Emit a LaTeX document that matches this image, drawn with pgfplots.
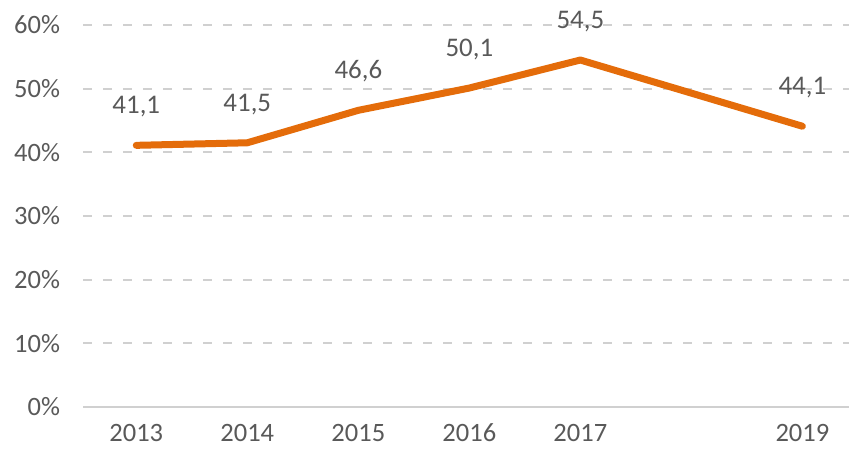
\documentclass[border=0pt]{standalone}
\usepackage{pgfplots}
\pgfplotsset{compat=1.18}
\usepackage{fontspec}
\setmainfont{Carlito}
\definecolor{lineor}{HTML}{E46C0A}
\definecolor{txt}{HTML}{595959}
\definecolor{gridc}{HTML}{D0D0D0}
\begin{document}
\begin{tikzpicture}
\begin{axis}[
  scale only axis,
  width=383bp, height=191bp,
  xmin=2012.52, xmax=2019.42,
  ymin=0, ymax=60,
  axis line style={draw=none},
  axis x line*=bottom,
  axis y line*=left,
  xtick={2013,2014,2015,2016,2017,2019},
  ytick={0,10,20,30,40,50,60},
  major tick length=0pt,
  xmajorgrids=false,
  ymajorgrids=true,
  grid style={draw=gridc, line width=1.1bp, dash pattern=on 4.5bp off 5.5bp},
  yticklabel={\pgfmathprintnumber{\tick}\%},
  /pgf/number format/1000 sep={},
  /pgf/number format/assume math mode=true,
  tick label style={font=\fontsize{13.3}{15}\selectfont, text=txt},
  yticklabel style={xshift=-8bp},
  xticklabel style={yshift=-5bp},
  clip=false,
  nodes near coords,
  nodes near coords style={font=\fontsize{13.5}{15}\selectfont, text=txt, anchor=south, yshift=9bp,
    /pgf/number format/.cd, fixed, fixed zerofill, precision=1, use comma, assume math mode=true},
]
\draw[draw=gridc, line width=1.1bp] (axis cs:2012.52,0) -- (axis cs:2019.42,0);
\addplot[lineor, line width=3.5bp, line cap=round, line join=round, mark=none] coordinates {
  (2013,41.1) (2014,41.5) (2015,46.6) (2016,50.1) (2017,54.5) (2019,44.1)
};
\end{axis}
\pgfresetboundingbox
\path[use as bounding box] (-41.5bp,-22.5bp) rectangle (383bp,203.5bp);
\end{tikzpicture}
\end{document}
